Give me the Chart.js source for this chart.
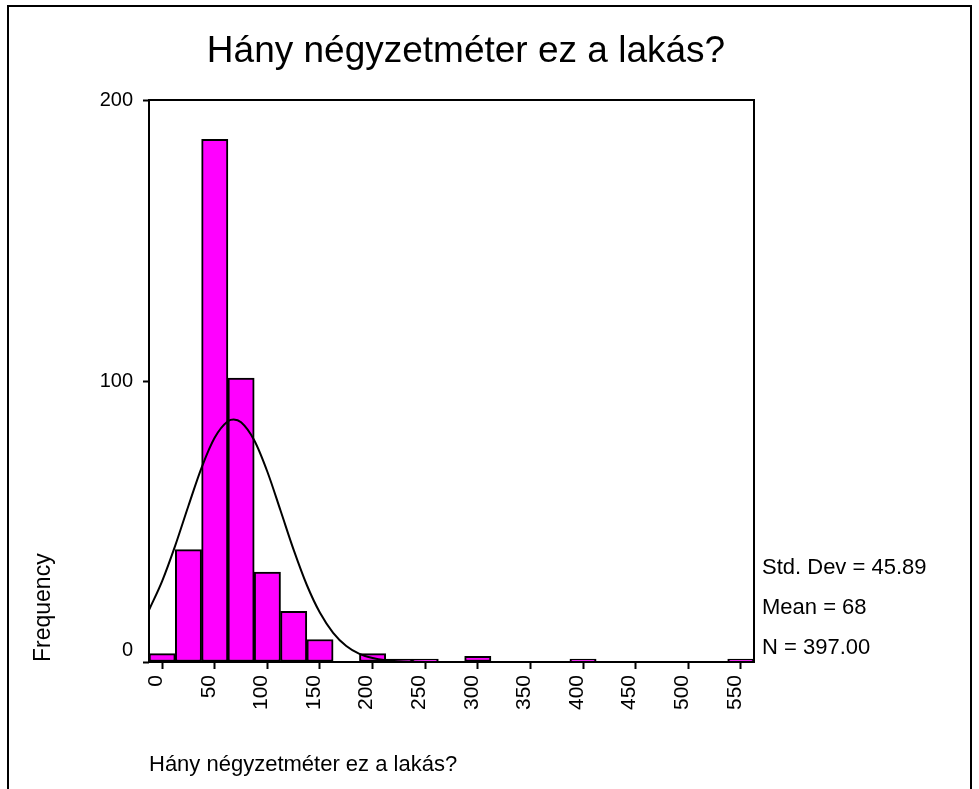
<!DOCTYPE html>
<html lang="hu">
<head>
  <meta charset="UTF-8">
  <title>Hány négyzetméter ez a lakás?</title>
  <style>
    body { margin: 0; background: #fff; }
  </style>
</head>
<body>
<canvas id="hist" width="979" height="789"></canvas>

<script src="https://cdn.jsdelivr.net/npm/chart.js"></script>
<script>
// histogram bins (width 25, centred on the value)
const binCenters = [0, 25, 50, 75, 100, 125, 150, 175, 200, 225, 250, 275, 300, 325, 350, 375, 400, 425, 450, 475, 500, 525, 550];
const counts     = [3, 40, 186, 101, 32, 18, 8, 0, 3, 1, 1, 0, 2, 0, 0, 0, 1, 0, 0, 0, 0, 0, 1];

// normal curve as it is drawn over the bars
const curveX = [-12.5, 0, 12.5, 25, 37.5, 50, 62.5, 68, 75, 87.5, 100, 112.5, 125, 137.5, 150, 162.5, 175, 187.5, 200, 212.5, 225, 237.5, 250, 275, 562.5];
const curveY = [18.5, 28.8, 41.5, 55.6, 69.2, 79.9, 85.7, 86.3, 85.3, 78.9, 67.7, 53.9, 39.9, 27.4, 17.5, 10.4, 5.7, 2.9, 1.4, 0.6, 0.25, 0.1, 0.03, 0, 0];

const xTicks = [0, 50, 100, 150, 200, 250, 300, 350, 400, 450, 500, 550];
const yTicks = [0, 100, 200];

const chartTitle = "Hány négyzetméter ez a lakás?";
const xTitle = "Hány négyzetméter ez a lakás?";
const yTitle = "Frequency";
const stats = ["Std. Dev = 45.89", "Mean = 68", "N = 397.00"];

Chart.defaults.font.family = '"Liberation Sans", Arial, sans-serif';
Chart.defaults.color = "#000";

const extras = {
  id: "extras",
  beforeDraw(chart) {
    const ctx = chart.ctx;
    ctx.save();
    ctx.fillStyle = "#fff";
    ctx.fillRect(0, 0, chart.width, chart.height);
    // outer frame (top, left, right)
    ctx.strokeStyle = "#000";
    ctx.lineWidth = 2;
    ctx.beginPath();
    ctx.moveTo(8, 789);
    ctx.lineTo(8, 6);
    ctx.lineTo(971, 6);
    ctx.lineTo(971, 789);
    ctx.stroke();
    ctx.restore();
  },
  afterDatasetsDraw(chart) {
    const ctx = chart.ctx;
    const a = chart.chartArea;
    ctx.save();
    ctx.strokeStyle = "#000";
    ctx.lineWidth = 2;
    ctx.strokeRect(a.left, a.top, a.right - a.left, a.bottom - a.top);
    ctx.restore();
  },
  afterDraw(chart) {
    const ctx = chart.ctx;
    ctx.save();
    ctx.fillStyle = "#000";
    ctx.textBaseline = "middle";
    ctx.font = '37px "Liberation Sans", Arial, sans-serif';
    ctx.textAlign = "center";
    ctx.fillText(chartTitle, 466, 52);
    ctx.font = '22px "Liberation Sans", Arial, sans-serif';
    ctx.textAlign = "left";
    stats.forEach(function (s, i) {
      ctx.fillText(s, 762, 568 + i * 40);
    });
    ctx.restore();
  }
};

new Chart(document.getElementById("hist"), {
  type: "bar",
  data: {
    datasets: [
      {
        type: "line",
        data: curveX.map(function (x, i) { return { x: x, y: curveY[i] }; }),
        borderColor: "#000",
        borderWidth: 2,
        pointRadius: 0,
        fill: false,
        cubicInterpolationMode: "monotone",
        order: 0
      },
      {
        type: "bar",
        data: binCenters.map(function (x, i) { return { x: x, y: counts[i] }; }),
        backgroundColor: "#ff00ff",
        borderColor: "#000",
        borderWidth: 2,
        borderSkipped: false,
        barPercentage: 1,
        categoryPercentage: 1,
        order: 1
      }
    ]
  },
  options: {
    responsive: false,
    animation: false,
    layout: { padding: { left: 26, right: 225, top: 100, bottom: 7 } },
    plugins: { legend: { display: false }, tooltip: { enabled: false } },
    scales: {
      x: {
        type: "linear",
        min: -12.5,
        max: 562.5,
        offset: false,
        afterBuildTicks: function (scale) {
          scale.ticks = xTicks.map(function (v) { return { value: v }; });
        },
        afterFit: function (scale) { scale.height = 120; },
        grid: { display: true, drawOnChartArea: false, drawTicks: true, tickLength: 7, tickColor: "#000", tickWidth: 2, offset: false },
        border: { display: false },
        ticks: {
          autoSkip: false,
          minRotation: 90,
          maxRotation: 90,
          padding: 6,
          labelOffset: -6,
          font: { size: 21 }
        },
        title: { display: true, text: xTitle, align: "start", font: { size: 22 } }
      },
      y: {
        min: 0,
        max: 200,
        afterBuildTicks: function (scale) {
          scale.ticks = yTicks.map(function (v) { return { value: v }; });
        },
        afterFit: function (scale) { scale.width = 123; },
        grid: { display: true, drawOnChartArea: false, drawTicks: true, tickLength: 6, tickColor: "#000", tickWidth: 2 },
        border: { display: false },
        ticks: {
          padding: 10,
          font: { size: 20 },
          callback: function (v) { return v === 0 ? ["0", ""] : v; }
        },
        title: { display: true, text: yTitle, align: "start", font: { size: 23 } }
      }
    }
  },
  plugins: [extras]
});
</script>
</body>
</html>
